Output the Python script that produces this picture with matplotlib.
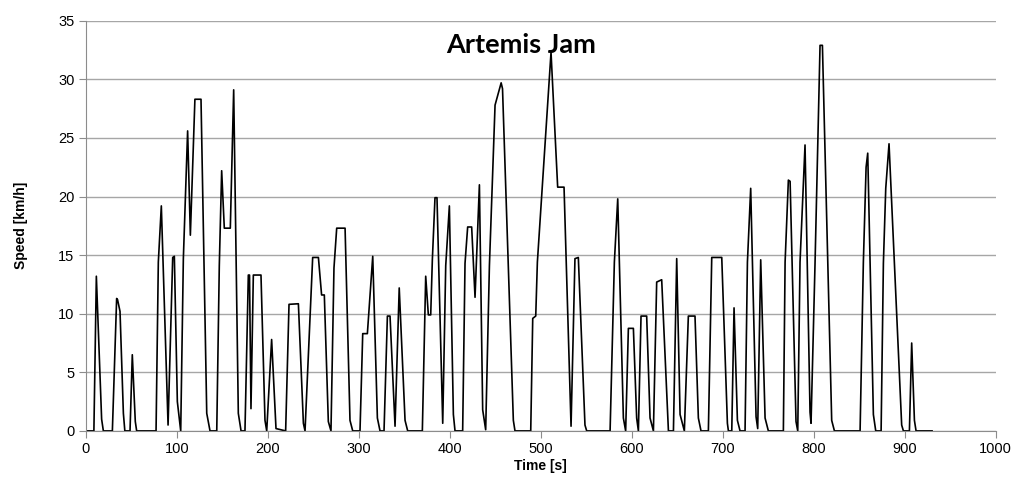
import matplotlib
matplotlib.use("Agg")
import matplotlib.pyplot as plt

# speed trace breakpoints
time_s = [0, 9, 11.7, 17.5, 19.4, 29.3, 34, 35, 37.7, 41.4, 43, 48.7, 51.2, 54.5, 56,
          77.3, 79.8, 83.1, 90.5, 95.6, 97.4, 100.7, 104.4, 107.3, 112, 115, 120, 126.7,
          133, 136.6, 144, 146.8, 149.4, 152.3, 158.9, 162.6, 167.7, 170.7, 175, 178.7,
          180, 181.6, 184.2, 192.6, 197, 198.9, 204.3, 209.1, 219.7, 223.4, 233.7, 239.2,
          241, 249.4, 255.7, 259.2, 262.2, 266.6, 269.5, 272.8, 275.8, 285, 290.4, 293.4,
          301.4, 304.4, 309.5, 315.4, 320.5, 323.4, 327.8, 331.5, 334.4, 339.9, 344.5,
          350.9, 353.8, 369.9, 373.6, 376.5, 379.1, 380.9, 383.8, 386, 392.3, 395.6,
          399.6, 404, 405.8, 414.2, 416.8, 419.7, 424.1, 427.8, 432.6, 436.2, 439.5,
          443.6, 449.8, 456.5, 458, 469.9, 471.7, 489, 491.2, 494.5, 496.3, 511.3, 518.6,
          525.6, 533.3, 537.6, 541.3, 548.6, 550.5, 576.2, 580.9, 584.6, 590.8, 593.3,
          596.3, 601.8, 605.4, 607.3, 610.2, 616.4, 620.1, 623.8, 627.4, 632.9, 640.3,
          645.8, 649.4, 653.1, 657.8, 662.2, 669.5, 673.2, 676.1, 684.2, 687.9, 698.9,
          705.1, 706.2, 709.9, 712.4, 716.1, 719, 724.5, 727.1, 730.7, 736.6, 738.4,
          741.7, 746.5, 750.1, 766.6, 768.5, 772.1, 774, 780.5, 782.4, 784.9, 790.4,
          795.9, 797, 801.4, 806.9, 809.5, 819.7, 822.7, 850.9, 854.5, 857.5, 859.3,
          865.5, 868.1, 874, 876.5, 879.1, 882.7, 896.6, 898.5, 905.1, 907.6, 910.6,
          912.4, 930]
speed_kmh = [0, 0, 13.2, 1.0, 0, 0, 11.3, 11.2, 10.2, 1.5, 0, 0, 6.5, 0.8, 0,
             0, 14.4, 19.2, 0.5, 14.8, 14.9, 2.5, 0, 14.7, 25.6, 16.7, 28.3, 28.3,
             1.5, 0, 0, 14.1, 22.2, 17.3, 17.3, 29.1, 1.5, 0, 0, 13.3,
             13.3, 1.9, 13.3, 13.3, 0.9, 0, 7.8, 0.2, 0, 10.8, 10.85, 0.65,
             0, 14.8, 14.8, 11.6, 11.6, 0.8, 0, 13.9, 17.3, 17.3, 0.9, 0,
             0, 8.3, 8.3, 14.9, 1.1, 0, 0, 9.8, 9.8, 0.4, 12.2,
             0.9, 0, 0, 13.2, 9.9, 9.9, 14.6, 19.9, 19.9, 0.65, 14.1,
             19.2, 1.4, 0, 0, 14.3, 17.4, 17.4, 11.4, 21.0, 1.8, 0.1,
             14.1, 27.8, 29.7, 29.2, 0.9, 0, 0, 9.6, 9.8, 14.4, 32.3, 20.8,
             20.8, 0.4, 14.7, 14.8, 0.5, 0, 0, 14.4, 19.8, 1.1, 0,
             8.75, 8.75, 1.1, 0, 9.8, 9.8, 1.1, 0, 12.7, 12.9, 0,
             0, 14.7, 1.4, 0, 9.8, 9.8, 1.1, 0, 0, 14.8, 14.8,
             0.65, 0, 0, 10.5, 0.9, 0, 0, 14.4, 20.7, 1.2, 0.2,
             14.6, 1.1, 0, 0, 14.4, 21.4, 21.3, 0.8, 0, 14.4, 24.4,
             1.6, 0.65, 14.3, 32.9, 32.9, 0.9, 0, 0, 14.4, 22.5, 23.7,
             1.4, 0, 0, 14.3, 20.7, 24.5, 0.5, 0, 0, 7.5, 0.9,
             0, 0]

x_ticks = list(range(0, 1001, 100))
y_ticks = list(range(0, 36, 5))

plt.rcParams['font.family'] = ['Liberation Sans', 'DejaVu Sans']

fig = plt.figure(figsize=(10.13, 4.82), dpi=100)
ax = fig.add_axes([0.0846, 0.106, 0.8984, 0.851])

ax.plot(time_s, speed_kmh, color='black', linewidth=1.2)

ax.set_xlim(0, 1000)
ax.set_ylim(0, 35)
ax.set_xticks(x_ticks)
ax.set_yticks(y_ticks)
ax.yaxis.grid(True, color='#a6a6a6', linewidth=1)
ax.set_axisbelow(True)
for s in ['top', 'right']:
    ax.spines[s].set_visible(False)
for s in ['left', 'bottom']:
    ax.spines[s].set_color('#8c8c8c')
ax.tick_params(axis='both', direction='out', length=5, color='#8c8c8c', labelsize=10.5, pad=3)

ax.set_xlabel('Time [s]', fontsize=10, fontweight='bold', labelpad=2)
ax.set_ylabel('Speed [km/h]', fontsize=10, fontweight='bold', labelpad=22)

fig.text(0.514, 0.906, 'Artemis Jam', ha='center', va='center', fontsize=19.5,
         fontweight='bold', family=['Lato', 'DejaVu Sans'])

fig.savefig('out.png', dpi=100)
